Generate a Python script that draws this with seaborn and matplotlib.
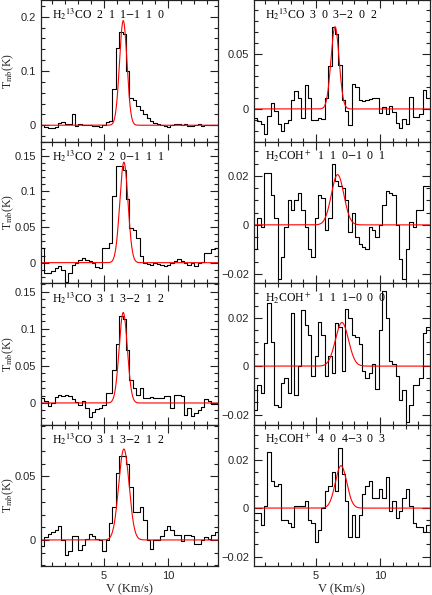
import numpy as np
import pandas as pd
import matplotlib
matplotlib.use("Agg")
import matplotlib.pyplot as plt
import seaborn as sns
from matplotlib.ticker import MultipleLocator, FuncFormatter

# ---------------- data ----------------
V_START = 0.14      # km/s, first channel edge
DV = 0.264          # km/s, channel width

T_L1 = [0.001, -0.003, -0.005, -0.005, -0.004, 0.004, 0.006, 0.002, 0.002, 0.02,
        -0.002, 0.003, 0.001, 0.0, 0.001, -0.001, -0.002, -0.003, 0.0, 0.006,
        0.008, 0.066, 0.142, 0.172, 0.168, 0.10, 0.05, 0.047, 0.036, 0.028,
        0.02, 0.014, 0.008, 0.005, 0.003, 0.0, -0.002, -0.003, 0.0, 0.003,
        0.002, 0.0, 0.002, -0.002, -0.001, 0.001, 0.002, -0.001, 0.0, 0.001,
        0.001, 0.0]
T_L2 = [0.02, -0.015, -0.014, -0.012, -0.008, -0.004, -0.01, -0.027, -0.015, -0.003,
        0.0, 0.004, 0.006, 0.004, 0.003, 0.0, -0.006, -0.008, 0.02, 0.02,
        0.027, 0.093, 0.135, 0.135, 0.13, 0.09, 0.048, 0.046, 0.034, 0.01,
        0.0, -0.002, -0.003, -0.001, -0.002, -0.003, -0.004, -0.003, 0.0, 0.003,
        0.005, 0.003, 0.0, -0.003, 0.0, -0.005, 0.0, 0.001, 0.013, 0.013,
        0.019, 0.02]
T_L3 = [0.007, 0.003, -0.004, 0.0, 0.008, 0.011, 0.01, 0.011, 0.009, 0.005,
        0.001, -0.003, 0.002, -0.007, -0.019, -0.012, -0.008, -0.007, -0.003, 0.013,
        0.013, 0.045, 0.08, 0.117, 0.113, 0.071, 0.031, 0.02, 0.011, 0.02,
        0.007, 0.007, 0.008, 0.007, 0.007, 0.007, 0.009, 0.009, -0.007, 0.011,
        0.011, 0.01, -0.016, -0.007, -0.018, -0.013, -0.009, -0.005, 0.005, 0.002,
        -0.002, -0.002]
T_L4 = [-0.005, 0.002, 0.005, 0.006, 0.008, 0.011, 0.0, -0.012, -0.009, 0.003,
        0.003, -0.008, -0.004, 0.001, 0.005, 0.003, 0.001, 0.0, -0.009, 0.0,
        0.013, 0.026, 0.053, 0.066, 0.066, 0.06, 0.042, 0.022, 0.022, 0.026,
        0.016, 0.0, -0.007, 0.0, 0.0, 0.003, 0.008, 0.011, 0.008, 0.004,
        0.004, -0.001, 0.004, 0.004, 0.003, -0.003, -0.003, 0.0, 0.002, 0.001,
        0.004, 0.006]
T_R1 = [-0.008, -0.011, -0.014, -0.023, -0.006, 0.005, -0.002, -0.014, -0.02, -0.013,
        -0.01, 0.008, 0.016, 0.01, -0.008, 0.022, 0.01, -0.01, -0.01, -0.008,
        -0.009, 0.01, 0.039, 0.075, 0.068, 0.04, 0.008, -0.002, -0.015, 0.023,
        0.02, 0.008, 0.007, 0.008, 0.009, 0.01, 0.01, -0.004, 0.002, -0.005,
        0.003, -0.003, -0.013, -0.017, -0.009, -0.014, 0.011, -0.007, -0.007, -0.005,
        0.017, 0.01]
T_R2 = [-0.01, 0.003, -0.001, 0.021, 0.021, 0.012, 0.003, -0.022, -0.013, -0.001,
        0.01, 0.006, 0.01, 0.013, 0.006, -0.001, -0.01, -0.013, 0.003, 0.012,
        0.011, -0.002, 0.003, 0.025, 0.018, 0.016, 0.015, 0.01, -0.003, 0.005,
        -0.005, -0.008, -0.009, -0.01, -0.001, -0.002, -0.005, 0.0, 0.008, 0.014,
        0.013, 0.012, 0.0, -0.014, -0.022, -0.01, 0.001, -0.001, 0.006, 0.006,
        0.016, 0.016]
T_R3 = [-0.018, -0.008, -0.011, 0.0095, 0.026, 0.01, -0.016, -0.017, -0.007, -0.005,
        -0.011, 0.022, -0.012, 0.0, 0.023, 0.017, 0.013, -0.004, 0.004, 0.018,
        0.013, -0.004, 0.004, -0.003, 0.0177, 0.016, -0.002, 0.0236, 0.02, 0.013,
        0.012, 0.009, -0.002, -0.005, -0.003, 0.001, -0.0095, 0.015, 0.031, 0.02,
        0.002, 0.001, -0.004, -0.014, -0.01, -0.023, -0.016, -0.008, -0.008, -0.005,
        0.0136, 0.016]
T_R4 = [-0.002, -0.002, -0.007, 0.001, 0.023, 0.011, 0.009, 0.01, -0.005, -0.005,
        -0.006, -0.008, 0.001, 0.001, 0.001, 0.003, -0.005, -0.006, -0.014, -0.009,
        0.0, 0.007, 0.009, 0.015, 0.007, 0.025, 0.014, 0.003, -0.012, -0.003,
        -0.012, -0.003, 0.006, 0.009, 0.011, 0.004, 0.004, 0.008, 0.004, 0.013,
        -0.001, 0.003, -0.004, -0.001, 0.004, 0.008, 0.001, -0.006, -0.008, -0.008,
        -0.01, -0.007]

SPECTRA = [T_L1, T_R1, T_L2, T_R2, T_L3, T_R3, T_L4, T_R4]

# Gaussian fit parameters (amplitude K, centre km/s, FWHM km/s)
FIT_AMP = [0.193, 0.075, 0.141, 0.0205, 0.122, 0.018, 0.0715, 0.0175]
FIT_CEN = [6.52, 6.48, 6.57, 6.68, 6.52, 7.02, 6.57, 6.95]
FIT_FWHM = [0.68, 0.75, 0.75, 1.15, 0.75, 1.2, 0.95, 1.05]

LABELS = [
    r"H$_2$$^{13}$CO  2  1  1$-$1  1  0",
    r"H$_2$$^{13}$CO  3  0  3$-$2  0  2",
    r"H$_2$$^{13}$CO  2  2  0$-$1  1  1",
    r"H$_2$COH$^+$  1  1  0$-$1  0  1",
    r"H$_2$$^{13}$CO  3  1  3$-$2  1  2",
    r"H$_2$COH$^+$  1  1  1$-$0  0  0",
    r"H$_2$$^{13}$CO  3  1  3$-$2  1  2",
    r"H$_2$COH$^+$  4  0  4$-$3  0  3",
]

YLIMS = [(-0.03, 0.231), (-0.0297, 0.0994), (-0.0285, 0.17), (-0.0237, 0.034),
         (-0.029, 0.1617), (-0.0241, 0.0343), (-0.0205, 0.0908), (-0.0239, 0.0345)]
Y_MAJOR = [0.1, 0.05, 0.05, 0.02, 0.05, 0.02, 0.05, 0.02]
Y_MINOR = [0.02, 0.01, 0.01, 0.005, 0.01, 0.005, 0.01, 0.005]
XLIM = (0.14, 13.87)

# ---------------- style ----------------
sns.set_theme(style="ticks")
plt.rcParams["font.family"] = ["Liberation Serif", "DejaVu Serif"]
plt.rcParams["mathtext.fontset"] = "stix"
plt.rcParams["axes.linewidth"] = 0.9
plt.rcParams["axes.edgecolor"] = "#222222"

W, H = 432, 595
fig = plt.figure(figsize=(W / 100, H / 100), dpi=100)

col_x = [41, 254]
col_w = [177, 175.5]
row_h = 141.5
bottom0 = 29


def fmt(v, pos):
    if abs(v) < 1e-9:
        return "0"
    s = "%g" % v
    return s.replace("-", "\u2212")


for idx in range(8):
    r, c = divmod(idx, 2)
    left = col_x[c] / W
    width = col_w[c] / W
    bottom = (bottom0 + (3 - r) * row_h) / H
    ax = fig.add_axes([left, bottom, width, row_h / H])

    vals = SPECTRA[idx]
    n = len(vals)
    edges = V_START + DV * np.arange(n + 1)
    df = pd.DataFrame({"v": edges, "t": list(vals) + [vals[-1]]})
    sns.lineplot(data=df, x="v", y="t", ax=ax, color="black", lw=0.8,
                 drawstyle="steps-post", estimator=None, sort=False)

    vf = np.linspace(XLIM[0], XLIM[1], 800)
    g = FIT_AMP[idx] * np.exp(-4 * np.log(2) * (vf - FIT_CEN[idx]) ** 2 / FIT_FWHM[idx] ** 2)
    dfg = pd.DataFrame({"v": vf, "t": g})
    sns.lineplot(data=dfg, x="v", y="t", ax=ax, color="#ff0000", lw=0.8,
                 estimator=None, sort=False)

    ax.set_xlim(*XLIM)
    ax.set_ylim(*YLIMS[idx])
    ax.xaxis.set_major_locator(MultipleLocator(5))
    ax.xaxis.set_minor_locator(MultipleLocator(1))
    ax.yaxis.set_major_locator(MultipleLocator(Y_MAJOR[idx]))
    ax.yaxis.set_minor_locator(MultipleLocator(Y_MINOR[idx]))
    ax.yaxis.set_major_formatter(FuncFormatter(fmt))
    ax.xaxis.set_major_formatter(FuncFormatter(fmt))
    ax.tick_params(which="both", direction="in", top=True, right=True,
                   width=0.8, color="#222222")
    ax.tick_params(which="major", length=5.5)
    ax.tick_params(which="minor", length=2.8)
    ax.tick_params(axis="y", which="major", labelsize=8.0, pad=3.5)
    ax.tick_params(axis="x", which="major", labelsize=8.0, pad=3.5)
    for lab in ax.get_yticklabels() + ax.get_xticklabels():
        lab.set_fontfamily(["Liberation Sans", "DejaVu Sans"])
    if r < 3:
        ax.tick_params(axis="x", labelbottom=False)
    ax.set_xlabel("")
    ax.set_ylabel("")

    ax.text(11 / col_w[c], 1 - 19 / row_h, LABELS[idx], transform=ax.transAxes,
            fontsize=8.5, ha="left", va="baseline", color="black")

    if c == 0:
        ax.text(-33 / col_w[c], 0.5, r"T$_{\rm mb}$(K)", transform=ax.transAxes,
                rotation=90, ha="center", va="center", fontsize=8.5)
    if r == 3:
        ax.text(0.5, -23.5 / row_h, "V (Km/s)", transform=ax.transAxes,
                ha="center", va="center", fontsize=9)

fig.savefig("out.png", dpi=100)
